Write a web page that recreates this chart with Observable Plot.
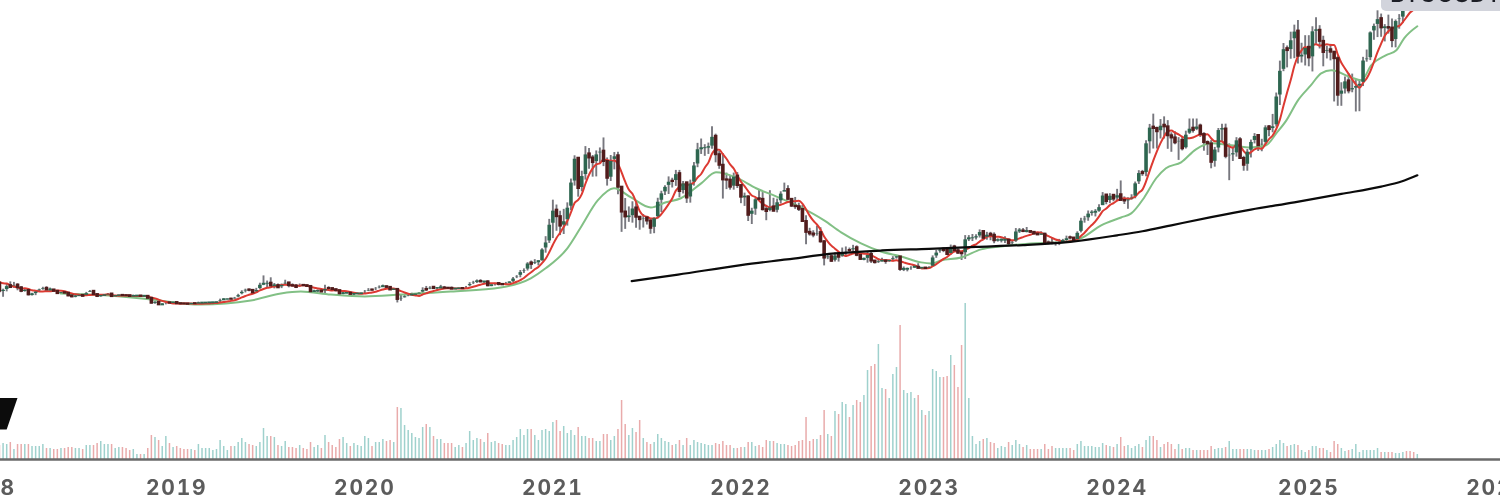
<!DOCTYPE html>
<html><head><meta charset="utf-8">
<script src="https://cdn.jsdelivr.net/npm/d3@7"></script>
<script src="https://cdn.jsdelivr.net/npm/@observablehq/plot@0.6"></script>
<style>
html,body{margin:0;padding:0;background:#fff;}
#wrap{position:relative;width:1500px;height:499px;overflow:hidden;background:#fff;}
#wrap svg{position:absolute;left:0;top:0;filter:blur(0.6px);background:transparent;}
#sym{position:absolute;left:1381px;top:-20px;width:119px;height:31px;background:#d2d4dc;border-bottom-left-radius:5px;
 font:500 23px Inter,sans-serif;color:#1c1e26;letter-spacing:0.6px;box-sizing:border-box;padding-left:9px;line-height:28px;filter:blur(0.4px);white-space:nowrap;}
#logo{position:absolute;left:0;top:398px;width:17.5px;height:31.5px;background:#0c0c0c;clip-path:polygon(0 0,100% 0,38% 100%,0 100%);filter:blur(0.4px);}
</style></head><body>
<div id="wrap"><div id="logo"></div><div id="sym">BTCUSDT</div></div>
<script>
// Weekly BTCUSDT, thousand USD, one row per ten weeks; first week of each year is the first Monday
const yearStarts = ["2018-01-01","2019-01-07","2020-01-06","2021-01-04","2022-01-03","2023-01-02","2024-01-01","2025-01-06"];
const close2018 = [14.1,13.6,11.5,11.2,8.2,8.5,10.3,9.6,10.5,9.5,
 8.2,8.5,6.9,7.0,8.3,8.8,9.3,8.7,8.7,8.2,
 7.35,7.7,7.5,6.5,6.15,6.35,6.7,6.35,7.7,8.2,
 7.0,6.3,6.55,6.7,7.2,6.25,6.5,6.7,6.6,6.58,
 6.3,6.42,6.48,6.35,6.35,5.6,3.8,4.1,3.2,3.2,
 3.95,3.85,4.05];
const high2018 = [17.2,15.0,14.0,12.0,11.7,9.0,10.9,11.7,11.5,11.0,
 9.9,9.2,8.9,7.5,8.4,9.0,9.7,9.9,9.4,8.9,
 8.5,7.8,7.8,7.6,6.8,6.8,6.9,6.9,7.8,8.5,
 8.3,7.2,6.7,6.9,7.4,7.4,6.6,6.8,6.8,6.7,
 6.7,6.8,6.6,6.5,6.6,6.5,5.7,4.3,4.2,3.6,
 4.2,4.2,4.2];
const low2018 = [12.8,12.8,9.2,10.0,7.6,6.0,8.0,9.3,9.3,8.4,
 7.7,7.9,6.5,6.5,6.6,8.1,8.6,8.5,8.3,7.9,
 7.1,7.0,7.3,6.2,5.8,5.8,6.2,6.1,6.3,7.8,
 6.8,5.9,6.0,6.3,6.7,6.1,6.2,6.3,6.4,6.5,
 6.1,6.2,6.3,6.2,6.3,5.1,3.5,3.4,3.1,3.2,
 3.2,3.5,3.7];
const vol2018 = [14,14,14,14,14,16,15,17,10,15,
 15,15,15,13,13,13,15,11,11,10,
 10,11,11,12,12,11,11,10,14,14,
 14,16,18,15,15,15,11,12,12,11,
 9,10,5,5,5,11,24,22,19,13,
 23,16,12];

const close2019 = [3.62,3.54,3.53,3.41,3.65,3.62,3.82,3.83,3.9,3.95,
 3.98,4.1,5.05,5.05,5.3,5.25,5.75,6.95,8.2,8.7,
 8.55,7.65,8.85,10.8,10.8,11.2,10.2,10.3,9.5,10.8,
 11.3,10.3,10.15,9.6,10.4,10.3,10.0,8.05,8.15,8.3,
 7.95,9.25,9.2,8.8,8.45,7.3,7.4,7.5,7.05,7.15,
 7.25,7.35];
const high2019 = [4.1,3.8,3.65,3.6,3.7,3.75,4.2,3.95,3.95,4.0,
 4.05,4.15,5.3,5.5,5.35,5.6,5.95,7.1,8.4,9.0,
 9.1,8.85,9.3,11.2,13.9,12.0,13.2,11.1,10.9,10.9,
 12.3,11.5,10.95,10.7,10.9,10.5,10.3,10.1,8.6,8.7,
 8.5,10.4,9.9,9.4,9.1,8.5,7.9,7.9,7.5,7.5,
 7.6,7.5];
const low2019 = [3.5,3.5,3.45,3.35,3.4,3.6,3.6,3.7,3.7,3.75,
 3.9,3.9,4.05,4.95,5.0,5.15,5.3,5.8,6.9,7.6,
 8.0,7.45,7.5,8.9,10.3,9.6,9.9,9.1,9.2,9.2,
 10.4,9.5,9.75,9.4,9.6,9.9,9.6,7.7,7.8,7.8,
 7.85,7.3,8.9,8.6,8.0,6.6,6.9,7.3,6.9,6.5,
 7.1,7.0];
const vol2019 = [13,11,10,10,10,9,15,11,11,11,
 9,10,19,13,9,13,13,17,21,17,
 15,14,13,17,31,23,23,22,14,13,
 18,12,12,11,14,11,10,17,12,14,
 11,24,17,14,12,20,22,16,13,16,
 14,13];

const close2020 = [8.15,8.7,8.6,9.3,9.9,9.9,9.65,8.7,8.9,5.2,
 5.8,6.2,6.8,6.85,7.1,7.55,8.9,8.7,9.7,9.2,
 9.45,9.45,9.35,9.3,9.0,9.08,9.25,9.18,9.93,11.05,
 11.68,11.85,11.65,11.7,10.25,10.32,11.08,10.75,10.6,11.3,
 11.5,13.1,13.75,15.48,16.05,18.68,18.18,19.15,19.15,23.85,
 26.45,33.0];
const high2020 = [8.5,9.2,9.0,9.6,10.2,10.5,10.2,9.7,9.2,9.2,
 6.9,6.9,7.3,7.5,7.3,7.8,9.5,10.0,9.9,9.8,
 9.6,10.4,10.0,9.6,9.8,9.3,9.4,9.3,10.0,11.4,
 11.9,12.4,12.5,11.8,12.1,10.6,11.2,11.1,10.9,11.5,
 11.7,13.3,14.0,15.9,16.5,18.8,19.4,19.9,19.5,23.9,
 28.4,34.8];
const low2020 = [7.3,8.1,8.3,8.5,9.1,9.7,9.3,8.5,8.5,3.9,
 4.5,5.7,6.2,6.6,6.5,6.8,7.4,8.1,8.8,8.9,
 8.7,9.3,9.3,8.9,8.9,8.9,9.0,9.0,9.1,9.9,
 10.7,11.1,11.4,11.1,9.9,9.9,10.2,10.2,10.4,10.5,
 11.2,11.4,12.9,13.2,14.8,15.7,16.3,18.1,17.6,19.3,
 22.3,25.9];
const vol2020 = [23,21,13,17,17,20,18,19,17,52,
 51,34,29,26,22,21,32,35,32,23,
 20,20,16,16,16,12,14,12,16,28,
 19,21,20,17,26,17,18,16,15,14,
 14,19,22,30,24,30,30,24,19,29,
 30,28];

const close2021 = [38.2,35.8,32.3,34.3,39.3,48.6,57.4,46.2,51.0,59.0,
 57.5,55.8,59.0,60.0,56.2,50.0,56.6,58.3,46.7,37.5,
 35.7,35.8,39.0,35.6,34.7,35.3,34.2,31.5,35.4,41.5,
 44.6,47.0,48.9,48.8,51.7,45.1,48.3,42.7,48.2,54.9,
 60.9,60.9,61.3,61.5,65.5,58.7,54.8,49.4,49.3,46.7,
 50.8,47.3];
const high2021 = [41.9,40.1,37.8,38.5,40.9,49.7,58.3,57.5,52.6,61.7,
 61.0,58.4,60.1,61.2,64.9,57.5,58.4,59.5,59.6,45.8,
 42.5,39.4,41.3,40.9,35.8,36.6,35.1,34.6,35.4,42.6,
 45.2,47.2,50.5,50.0,52.9,52.9,48.8,48.5,49.3,55.8,
 62.9,64.5,62.4,63.0,69.0,66.3,59.9,59.1,51.9,50.8,
 51.9,52.1];
const low2021 = [27.7,30.4,28.8,29.2,32.3,38.0,47.1,43.0,45.0,49.3,
 53.3,50.4,50.5,55.4,54.3,47.1,48.8,53.1,43.9,30.0,
 31.1,33.7,33.4,31.5,30.8,31.6,32.7,29.3,29.5,35.0,
 37.3,43.6,44.0,46.4,47.0,42.8,44.2,40.7,40.8,47.1,
 53.9,58.8,58.1,58.8,60.7,55.7,53.3,42.3,45.8,45.6,
 45.6,46.2];
const vol2021 = [37,39,28,33,26,29,24,32,23,23,
 21,21,18,18,25,25,19,23,30,59,
 35,24,31,27,39,21,17,15,17,25,
 21,18,17,14,15,19,14,21,14,19,
 17,16,15,14,14,16,15,18,14,14,
 11,11];

const close2022 = [43.0,43.1,36.3,38.2,42.4,42.2,38.4,37.7,39.4,37.8,
 41.3,44.5,45.8,42.2,39.7,39.5,38.5,34.0,30.0,29.4,
 29.0,29.9,26.5,20.5,21.0,19.3,21.6,20.8,22.5,23.3,
 23.2,24.3,21.5,20.0,20.0,21.8,19.4,18.8,19.3,19.4,
 19.25,19.55,20.6,20.9,16.3,16.3,16.4,17.1,17.1,16.7,
 16.8,16.6];
const high2022 = [47.5,44.5,43.5,38.9,42.5,45.8,44.7,40.0,45.4,42.6,
 42.3,45.0,48.2,47.2,42.4,42.9,40.8,40.0,36.1,31.5,
 30.6,32.2,31.7,27.0,21.8,21.5,22.4,22.3,24.2,24.6,
 24.2,25.2,25.0,21.8,20.5,22.8,22.7,19.6,20.2,20.4,
 19.9,19.6,21.0,21.4,21.0,17.2,16.8,17.3,17.4,18.4,
 17.0,16.9];
const low2022 = [40.6,39.6,34.0,32.9,36.3,41.6,37.9,34.3,37.6,37.6,
 37.2,40.5,45.1,42.0,39.2,38.5,37.7,33.7,25.4,28.6,
 28.0,28.6,26.0,17.6,19.9,18.9,19.0,19.0,20.8,20.7,
 22.7,22.7,21.0,19.6,19.5,18.6,18.5,18.3,18.5,19.0,
 18.2,18.9,19.1,20.1,15.6,15.5,15.4,16.0,16.7,16.3,
 16.4,16.3];
const vol2022 = [12,12,17,17,13,14,12,19,18,18,
 16,15,15,14,13,14,18,19,42,18,
 20,20,24,49,25,23,48,45,57,55,
 42,54,59,57,64,89,93,95,115,71,
 70,61,85,92,134,69,66,67,61,64,
 49,44];

const close2023 = [17.1,20.9,22.7,23.8,23.3,21.8,24.6,23.2,22.3,22.1,
 27.6,27.6,28.0,28.3,30.3,27.8,29.3,28.9,26.9,27.1,
 27.1,27.1,25.8,26.4,30.5,30.5,30.3,30.3,30.0,29.35,
 29.05,29.3,26.1,26.0,25.9,25.9,26.6,26.6,28.0,27.9,
 27.0,30.0,34.5,35.0,37.1,37.4,37.45,39.5,43.8,41.4,
 43.7,42.3];
const high2023 = [17.3,21.3,23.3,23.9,24.2,23.4,25.3,25.2,23.9,22.6,
 28.8,28.8,29.2,29.1,30.9,30.5,30.0,30.0,29.8,27.6,
 27.5,28.4,27.4,26.8,31.4,31.4,31.4,31.8,30.4,30.3,
 30.0,30.2,29.7,26.8,28.1,26.4,27.4,27.4,28.6,28.6,
 28.0,30.2,35.2,35.9,37.9,38.0,38.4,40.2,44.7,43.4,
 44.3,43.7];
const low2023 = [16.5,17.1,20.4,22.3,22.5,21.4,21.5,22.8,21.9,19.6,
 20.0,26.6,26.6,27.2,27.9,27.2,27.1,26.9,25.8,26.4,
 26.1,25.9,24.8,24.8,26.3,29.6,29.9,29.8,29.6,29.2,
 28.9,28.9,25.2,25.4,25.4,24.9,25.1,26.1,26.0,27.2,
 26.6,26.5,29.8,33.4,34.1,36.0,35.7,37.4,39.9,40.2,
 40.6,41.3];
const vol2023 = [48,90,88,82,82,83,104,94,72,114,
 156,61,23,15,18,20,21,17,16,11,
 13,12,17,14,19,15,12,14,10,10,
 10,10,15,10,13,11,11,11,11,11,
 9,15,18,13,13,13,12,12,16,14,
 13,12];

const close2024 = [43.9,41.8,41.6,42.0,43.0,48.3,52.1,51.7,63.1,68.9,
 68.4,67.2,69.6,69.0,65.7,64.9,63.1,64.0,60.9,66.3,
 68.5,67.7,69.3,66.2,63.2,62.7,55.9,60.8,68.0,68.2,
 58.1,58.7,59.0,64.2,57.3,54.8,60.0,63.6,65.8,62.0,
 62.9,69.0,68.0,69.4,80.4,89.9,97.9,97.2,101.2,104.4,
 95.1,95.2,98.4];
const high2024 = [45.9,49.0,43.1,42.8,43.9,48.6,52.8,52.9,63.9,69.9,
 73.7,68.9,71.7,72.7,71.3,66.8,67.2,65.0,65.5,67.4,
 71.9,71.9,71.9,70.0,66.8,63.8,63.9,61.4,68.4,70.0,
 70.0,62.7,61.6,65.0,65.0,58.1,60.6,64.1,66.5,65.6,
 64.4,69.4,69.5,73.6,81.5,93.3,99.8,98.9,104.0,106.6,
 108.3,99.9,102.7];
const low2024 = [41.5,41.5,40.3,38.5,41.9,42.4,47.7,50.7,50.6,59.0,
 60.8,60.8,64.5,64.5,60.7,59.6,62.4,56.6,60.1,60.8,
 66.2,66.7,67.6,65.1,60.0,58.4,53.5,54.1,59.4,63.4,
 57.2,49.1,56.2,57.8,57.2,52.6,52.6,57.5,62.7,59.9,
 59.8,62.1,65.3,66.8,68.9,76.9,89.4,90.8,94.0,94.2,
 92.2,92.6,91.5];
const vol2024 = [15,22,13,14,11,13,15,12,19,23,
 23,19,12,15,17,15,10,15,10,11,
 11,9,9,9,9,9,13,10,11,11,
 12,18,10,10,10,10,10,10,9,9,
 9,9,10,12,15,19,16,13,14,15,
 14,9,7];

const close2025 = [94.5,104.5,104.7,100.6,96.5,97.5,96.6,94.2,80.7,82.6,
 86.0,82.3,83.5,83.7,85.1,93.7,94.2,104.1,106.5,109.0,
 105.6,105.7,105.5,100.9,108.3,109.2,119.0,118.0,117.9,113.3,
 114.5];
const high2025 = [102.7,106.0,109.3,106.4,102.5,98.8,99.5,96.6,95.0,85.3,
 87.4,88.7,88.5,86.1,86.5,94.7,97.4,104.1,107.0,111.9,
 110.7,106.8,110.3,108.9,108.5,110.5,119.5,123.2,120.2,119.7,
 115.0];
const low2025 = [91.2,89.3,99.5,97.8,91.2,94.1,93.4,78.2,76.6,76.6,
 81.1,81.2,81.6,74.5,74.6,83.9,92.9,93.5,101.0,102.0,
 102.1,100.4,103.3,98.2,98.2,105.1,107.3,115.7,114.7,112.0,
 112.0];
const vol2025 = [9,13,13,11,11,9,7,18,15,11,
 8,9,10,15,7,9,9,9,9,11,
 7,7,7,7,6,6,7,8,8,7,
 5];

// Slow average (green): week number from 2018-01-01, thousand USD
const slowMaWeeks = [20.9,32,45.8,59.6,73.5,81.8,87.3,95.6,105,115,128.8,142.6,150.9,155,161,164.7,169.4,173.9,178.6,184.1,188.3,192.4,198,202.1,207.6,213.2,218.7,225.6,232,236.7,242.2,247.7,253.3,258.8,261.6,264.3,269.9,275.4,280.9,289.2,297.5,303,308.6,314.1,316.9,320.5,323.8,326.5,330.7,334.8,339,344.5,350,354.2,357,359.8,363,366.6,369.4,372.2,377.7,380.5,383.3,387.4,390.2,392.4,396];
const slowMaValues = [7.4,6.8,5.2,3.3,4.8,7.4,8.1,7.0,6.3,7.0,8.1,9.6,13.0,16.7,24.1,31.8,41.8,46.3,42.9,39.2,41.1,42.6,48.1,52.2,50.3,46.3,43.3,39.2,34.4,30,25.9,22.9,21.1,18.9,18.5,19.6,20.7,23.7,24.8,25.9,26.3,27.8,32.6,35.5,37,42.9,50,53.7,55.9,60.7,62.9,62.2,61.4,62.2,66.6,71.4,78.8,84.4,88.8,89.9,87.3,86.2,91.8,95.5,97.3,101.8,106.2];
// 200-week average (black)
const longMaWeeks = [178.8,191.6,209,221.7,235,248,261,274,287,300,313,320,328,339,350,362,375,386,391.6,396];
const longMaValues = [12.0,14.4,17.9,20.0,22.2,23.3,23.9,24.6,25.3,26.5,28.9,30.4,32.6,35.6,38.4,41.1,44.2,46.9,48.8,51.1];

const yearTicks = [...yearStarts, "2026-01-05"].map(d => new Date(d));
const closes = [close2018,close2019,close2020,close2021,close2022,close2023,close2024,close2025].flat();
const highs = [high2018,high2019,high2020,high2021,high2022,high2023,high2024,high2025].flat();
const lows = [low2018,low2019,low2020,low2021,low2022,low2023,low2024,low2025].flat();
const vols = [vol2018,vol2019,vol2020,vol2021,vol2022,vol2023,vol2024,vol2025].flat();
const t0 = +new Date("2018-01-01");
const weekDate = i => new Date(t0+i*7*864e5);
const weeks = closes.map((c,i)=>({
  date:weekDate(i),
  open:i?closes[i-1]:c, close:c, high:highs[i], low:lows[i], vol:vols[i], up:i?c>=closes[i-1]:true
}));
const slowMa = slowMaWeeks.map((w,i)=>({date:weekDate(w),v:slowMaValues[i]}));
const longMa = longMaWeeks.map((w,i)=>({date:weekDate(w),v:longMaValues[i]}));

const xOpt = {type:"utc",domain:[new Date("2018-01-31"),new Date("2026-01-12")],range:[0,1500]};
const RED_K = 7;
const price = Plot.plot({
  width:1500,height:499,marginLeft:0,marginRight:0,marginTop:0,marginBottom:0,
  style:{background:"transparent"},
  x:{...xOpt,axis:null},
  y:{domain:[0,115.71],range:[313,0],axis:null},
  marks:[
    Plot.ruleX(weeks,{x:"date",y1:"low",y2:"high",stroke:"#77777e",strokeWidth:1.9,clip:true}),
    Plot.line(slowMa,{x:"date",y:"v",stroke:"#82c085",strokeWidth:2,curve:"monotone-x",clip:true}),
    Plot.lineY(weeks,Plot.windowY({k:RED_K,anchor:"end",reduce:"mean"},{x:"date",y:"close",stroke:"#dc3a32",strokeWidth:2,curve:"monotone-x",clip:true})),
    Plot.ruleX(weeks,{x:"date",y1:"open",y2:"close",insetTop:-1,insetBottom:-1,stroke:d=>d.up?"#2e6650":"#511c1c",strokeWidth:3.6,clip:true}),
    Plot.line(longMa,{x:"date",y:"v",stroke:"#0b0b0b",strokeWidth:2.2,curve:"monotone-x",clip:true})
  ]
});
const volume = Plot.plot({
  width:1500,height:499,marginLeft:0,marginRight:0,marginTop:0,marginBottom:40,
  style:{background:"transparent",fontFamily:"Inter,sans-serif",fontSize:"21px",fontWeight:"700",letterSpacing:"1.8px",color:"#5c5c5c"},
  x:{...xOpt},
  y:{domain:[0,156],range:[459,303],axis:null},
  marks:[
    Plot.ruleX(weeks,{x:"date",y1:0,y2:"vol",stroke:d=>d.up?"#9fd1cd":"#e9abab",strokeWidth:1.5}),
    Plot.ruleY([0],{stroke:"#6a6a6a",strokeWidth:2.6}),
    Plot.axisX({ticks:yearTicks,tickFormat:d=>String(d.getUTCFullYear()),tickSize:0,tickPadding:21,fill:"#5c5c5c",label:null})
  ]
});
const wrap=document.getElementById("wrap");
wrap.insertBefore(volume,wrap.firstChild);
wrap.insertBefore(price,volume.nextSibling);
</script></body></html>
